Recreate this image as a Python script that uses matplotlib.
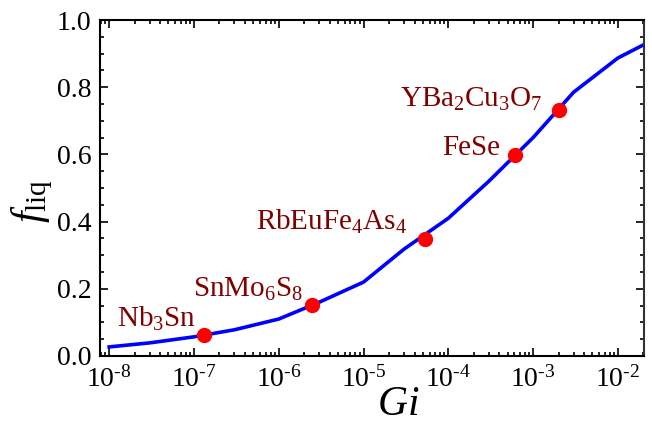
import numpy as np
import matplotlib
matplotlib.use('Agg')
import matplotlib.pyplot as plt
from matplotlib.ticker import FixedLocator, MultipleLocator, FuncFormatter, NullFormatter

plt.rcParams['font.family'] = 'Liberation Serif'
plt.rcParams['mathtext.fontset'] = 'custom'
plt.rcParams['mathtext.rm'] = 'Liberation Serif'
plt.rcParams['mathtext.it'] = 'Liberation Serif:italic'

# curve f_liq(Gi)
gi_curve = [1e-8, 3e-8, 1e-7, 3e-7, 1e-6, 3e-6, 1e-5, 3e-5, 1e-4, 3e-4, 1e-3, 3e-3, 1e-2, 2e-2]
f_curve = [0.027, 0.039, 0.057, 0.078, 0.11, 0.16, 0.22, 0.318, 0.41, 0.52, 0.65, 0.785, 0.887, 0.926]

# materials
names = ['Nb$_3$Sn', 'SnMo$_6$S$_8$', 'RbEuFe$_4$As$_4$', 'FeSe', 'YBa$_2$Cu$_3$O$_7$']
gi_pts = [1.32e-7, 2.5e-6, 5.3e-5, 6.1e-4, 2.03e-3]
f_pts = [0.0625, 0.152, 0.348, 0.598, 0.733]
offsets = [(-8, 8), (-9, 8), (-18, 9), (-15, 0), (-17, 3)]

decades = np.arange(-8, -1)

fig = plt.figure(figsize=(6.52, 4.24), dpi=100)
ax = fig.add_axes([0.1534, 0.1604, 0.8343, 0.7924])

ax.plot(gi_curve, f_curve, color='#0000ff', lw=2.6, zorder=2)
ax.plot(gi_pts, f_pts, 'o', color='#ff0000', ms=10, zorder=3)
for n, x, y, off in zip(names, gi_pts, f_pts, offsets):
    ax.annotate(n, (x, y), xytext=off, textcoords='offset pixels',
                ha='right', va='baseline', color='#800000', fontsize=21)

ax.set_xscale('log')
ax.set_xlim(7.8e-9, 2.03e-2)
ax.set_ylim(0, 1.0)
major = 10.0 ** decades
minor = [m * 10.0 ** d for d in range(-9, -1) for m in range(2, 10) if 7.8e-9 < m * 10.0 ** d < 2.03e-2]
ax.xaxis.set_major_locator(FixedLocator(major))
ax.xaxis.set_minor_locator(FixedLocator(minor))
ax.xaxis.set_major_formatter(FuncFormatter(lambda v, p: '$10^{\u2010%d}$' % round(-np.log10(v))))
ax.xaxis.set_minor_formatter(NullFormatter())
ax.yaxis.set_major_locator(MultipleLocator(0.2))
ax.yaxis.set_minor_locator(MultipleLocator(0.05))
ax.yaxis.set_major_formatter(FuncFormatter(lambda v, p: '%.1f' % v))

ax.tick_params(which='both', direction='in', top=True, right=True, labelsize=20, width=1.2)
ax.tick_params(which='major', length=6)
ax.tick_params(which='minor', length=3)
ax.tick_params(axis='x', pad=7)
ax.tick_params(axis='y', pad=6)
for s in ax.spines.values():
    s.set_linewidth(1.5)
ax.spines['right'].set_color('#333333')

ax.set_xlabel('$Gi$', fontsize=30, va='center', ha='center')
ax.xaxis.set_label_coords(0.548, -0.146)
ax.set_ylabel(r'$f_{\mathrm{liq}}$', fontsize=30, va='center', ha='center')
ax.yaxis.set_label_coords(-0.125, 0.46)

fig.savefig('out.png', dpi=100)
